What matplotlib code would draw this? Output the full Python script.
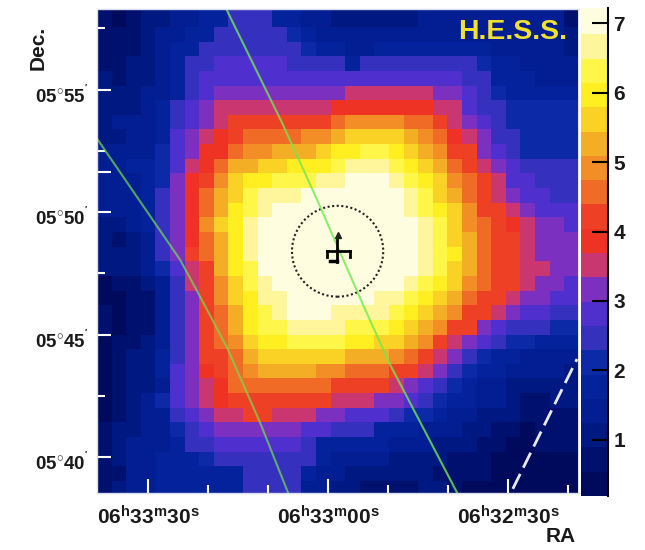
import numpy as np
import matplotlib
matplotlib.use('Agg')
import matplotlib.pyplot as plt
from matplotlib.colors import ListedColormap, BoundaryNorm
from matplotlib.patches import Ellipse
from matplotlib.transforms import ScaledTranslation

plt.rcParams['font.family'] = ['Liberation Sans', 'DejaVu Sans']
plt.rcParams['font.weight'] = 'bold'
plt.rcParams['mathtext.fontset'] = 'custom'
plt.rcParams['mathtext.rm'] = 'Liberation Sans:bold'
plt.rcParams['mathtext.bf'] = 'Liberation Sans:bold'
plt.rcParams['mathtext.default'] = 'rm'

# === 1. Data ===
# significance per bin, top row first, left (high RA) to right
excess = [
    [0.7,0.4,0.7,1.1,1.1,1.4,1.4,1.8,1.8,2.5,2.5,2.5,1.8,1.8,1.4,1.4,1.1,1.1,1.1,1.1,1.1,1.1,1.4,1.4,1.4,1.4,1.4,1.4,1.4,1.4,1.4,1.4,0.7],
    [0.7,0.4,0.7,1.1,1.1,1.4,1.4,1.8,1.8,2.5,2.5,2.5,1.8,1.8,1.4,1.4,1.1,1.1,1.1,1.1,1.1,1.1,1.4,1.4,1.4,1.4,1.4,1.4,1.4,1.4,1.4,1.4,0.7],
    [0.7,0.7,0.7,1.1,1.4,1.4,1.8,1.8,2.5,2.5,2.5,2.5,2.5,2.1,1.8,1.4,1.4,1.4,1.4,1.4,1.4,1.4,1.4,1.4,1.4,1.4,1.4,1.4,1.4,1.4,1.4,1.4,1.1],
    [0.7,0.7,0.7,1.1,1.4,1.8,1.8,2.5,2.5,2.5,2.5,2.5,2.5,2.5,2.1,1.8,1.8,1.4,1.4,1.8,1.8,1.8,1.8,1.8,1.8,1.8,1.8,1.4,1.4,1.4,1.4,1.4,1.1],
    [0.7,0.7,1.1,1.1,1.4,1.8,2.5,2.5,2.8,2.8,2.8,2.8,2.8,2.5,2.5,2.5,2.5,1.8,2.5,2.5,2.5,2.5,2.5,2.5,2.5,2.5,2.1,1.8,1.8,1.4,1.4,1.4,1.4],
    [1.1,0.7,1.1,1.1,1.4,1.8,2.5,2.8,2.8,2.8,2.8,2.8,2.8,2.8,2.8,2.8,2.8,2.8,2.8,2.8,2.8,2.8,2.8,2.8,2.8,2.5,2.5,1.8,1.8,1.8,1.4,1.4,1.4],
    [1.1,1.1,1.1,1.4,1.4,1.8,2.5,2.8,3.2,3.2,3.2,3.2,3.2,3.2,3.2,3.2,3.2,3.5,3.5,3.5,3.5,3.5,3.5,3.2,3.2,2.8,2.5,2.1,1.8,1.8,1.8,1.8,1.8],
    [1.1,1.1,1.1,1.4,1.8,2.5,2.8,3.2,3.5,3.5,3.5,3.5,3.5,3.5,3.5,3.5,3.9,3.9,3.9,3.9,3.9,3.9,3.9,3.5,3.5,2.8,2.5,2.5,2.1,2.1,2.1,2.1,2.1],
    [1.1,1.4,1.4,1.4,1.8,2.5,2.8,3.2,3.5,4.2,4.2,4.2,4.2,4.2,4.2,4.2,4.6,4.9,4.9,4.9,4.9,4.6,4.6,4.2,3.5,3.2,2.8,2.5,2.1,2.1,2.1,2.1,2.1],
    [1.1,1.1,1.4,1.4,1.8,2.8,3.2,3.5,3.9,4.2,4.6,4.6,4.6,4.6,4.9,4.9,5.3,5.6,5.6,5.6,5.6,5.3,4.9,4.6,3.9,3.5,3.2,2.5,2.5,2.1,2.1,2.1,2.1],
    [1.4,1.4,1.4,1.4,2.1,2.8,3.2,3.9,3.9,4.6,4.9,4.9,5.3,5.3,5.3,5.6,6.0,6.0,6.3,6.3,6.0,5.6,5.3,4.9,4.2,4.2,3.2,2.8,2.5,2.1,2.1,2.1,2.1],
    [1.4,1.4,1.8,1.8,2.1,2.8,3.5,3.9,4.6,5.3,5.3,5.6,5.6,6.0,6.0,6.0,6.3,6.7,6.7,6.7,6.3,6.0,5.6,5.3,4.6,4.2,3.5,3.2,2.8,2.5,2.5,2.5,2.5],
    [1.4,1.4,1.4,1.8,2.1,3.2,3.9,4.2,4.9,5.6,6.0,6.0,6.3,6.3,6.3,6.7,6.7,7.0,7.0,7.0,6.7,6.3,6.0,5.6,4.9,4.6,4.2,3.5,2.8,2.8,2.5,2.5,2.5],
    [1.4,1.4,1.4,1.8,2.5,3.2,3.9,4.6,5.3,5.6,6.3,6.7,6.7,6.7,7.0,7.0,7.0,7.0,7.0,7.0,7.0,6.7,6.3,5.6,5.3,4.6,4.2,3.5,3.2,2.8,2.8,2.5,2.5],
    [1.4,1.4,1.4,1.8,2.5,3.2,3.9,4.6,5.3,6.0,6.3,6.7,7.0,7.0,7.0,7.0,7.0,7.0,7.0,7.0,7.0,6.7,6.3,6.0,5.6,4.9,4.2,4.2,3.5,3.2,2.8,2.8,2.8],
    [1.1,1.1,1.4,1.8,2.5,3.2,3.9,4.9,5.6,6.0,6.7,7.0,7.0,7.0,7.0,7.0,7.0,7.0,7.0,7.0,7.0,7.0,6.7,6.3,5.6,4.9,4.6,4.2,3.9,3.5,3.2,3.2,2.8],
    [1.1,0.7,1.1,1.4,2.5,3.2,3.9,4.6,5.3,6.0,6.7,7.0,7.0,7.0,7.0,7.0,7.0,7.0,7.0,7.0,7.0,7.0,6.7,6.3,5.6,5.3,4.6,4.2,4.2,3.5,3.2,3.2,3.2],
    [1.1,1.1,1.1,1.4,2.5,3.2,4.2,4.6,5.3,6.0,6.7,7.0,7.0,7.0,7.0,7.0,7.0,7.0,7.0,7.0,7.0,7.0,6.7,6.3,6.0,5.3,4.6,4.2,4.2,3.5,3.2,3.2,3.2],
    [1.1,1.1,1.1,1.4,2.1,2.8,3.5,4.2,5.3,6.0,6.3,7.0,7.0,7.0,7.0,7.0,7.0,7.0,7.0,7.0,7.0,7.0,6.7,6.3,5.6,5.3,4.6,4.2,4.2,3.5,3.5,3.2,3.2],
    [0.4,0.7,0.7,1.1,1.4,2.5,3.5,4.2,4.9,5.6,6.3,6.7,7.0,7.0,7.0,7.0,7.0,7.0,7.0,7.0,7.0,6.7,6.3,6.0,5.6,4.9,4.6,4.2,4.2,3.5,3.2,3.2,2.8],
    [0.4,0.4,0.7,0.7,1.4,2.5,3.2,4.2,4.9,5.6,6.0,6.7,6.7,7.0,7.0,7.0,7.0,7.0,7.0,6.7,6.7,6.3,6.0,5.6,5.3,4.6,4.2,4.2,3.5,3.2,3.2,2.8,2.8],
    [0.7,0.4,0.7,0.7,1.4,2.5,3.2,4.2,4.6,5.3,6.0,6.3,6.7,7.0,7.0,7.0,6.7,6.7,6.7,6.7,6.3,6.0,5.6,5.3,4.9,4.2,4.2,3.5,3.2,2.8,2.8,2.5,2.5],
    [0.7,0.4,0.7,0.7,1.4,2.5,3.2,4.2,4.6,5.3,6.0,6.3,6.3,6.7,6.7,6.7,6.7,6.3,6.3,6.3,6.0,5.6,5.3,4.9,4.2,4.2,3.2,2.8,2.5,2.5,2.5,2.1,2.1],
    [0.4,0.7,0.7,1.1,1.4,2.5,3.2,4.2,4.6,4.9,5.6,6.0,6.0,6.3,6.3,6.3,6.3,6.0,6.0,5.6,5.6,5.3,4.9,4.2,3.5,3.2,2.8,2.5,2.1,2.1,1.8,1.8,1.8],
    [0.4,0.7,1.1,1.1,1.8,2.5,3.2,4.2,4.2,4.6,5.3,5.6,5.6,5.6,5.6,5.6,5.6,5.3,5.3,5.3,4.9,4.6,4.2,3.5,3.2,2.5,2.1,1.8,1.8,1.4,1.4,1.4,1.4],
    [0.4,0.7,1.1,1.1,1.8,2.8,3.2,3.9,4.2,4.6,4.9,5.3,5.3,5.3,5.3,4.9,4.9,4.6,4.6,4.6,4.2,4.2,3.5,3.2,2.5,2.1,1.8,1.8,1.4,1.4,1.4,1.4,1.1],
    [0.4,0.7,1.1,1.1,1.4,2.8,3.2,3.5,3.9,4.6,4.6,4.6,4.6,4.6,4.6,4.6,4.2,4.2,4.2,4.2,3.5,3.2,2.8,2.5,2.1,1.8,1.4,1.4,1.1,1.1,1.1,1.1,1.1],
    [0.4,0.7,1.1,1.4,2.1,2.8,3.2,3.5,3.9,4.2,4.2,4.2,4.2,4.2,4.2,4.2,3.5,3.5,3.5,3.2,3.2,2.8,2.5,2.1,1.8,1.8,1.4,1.4,1.1,0.7,0.7,1.1,1.1],
    [0.4,0.7,1.1,1.4,1.4,2.5,2.8,3.2,3.5,3.5,4.2,4.2,3.5,3.5,3.5,3.2,3.2,2.8,2.8,2.8,2.5,2.1,2.1,1.8,1.4,1.4,1.1,1.1,1.1,0.7,0.7,0.7,0.7],
    [0.7,1.1,1.1,1.4,1.4,2.1,2.5,2.8,3.2,3.2,3.2,3.2,3.2,3.2,2.8,2.8,2.5,2.5,2.5,1.8,1.8,1.8,1.4,1.4,1.4,1.1,1.1,0.7,0.7,0.4,0.7,0.7,0.7],
    [0.7,1.1,1.4,1.4,1.4,1.8,2.5,2.5,2.8,2.8,2.8,2.8,2.8,2.8,2.5,1.8,1.8,1.8,1.8,1.8,1.4,1.4,1.4,1.1,1.1,1.1,0.7,0.7,0.4,0.4,0.7,0.7,0.7],
    [0.7,1.1,1.4,1.4,1.8,1.8,1.8,2.1,2.5,2.5,2.5,2.5,2.5,2.5,2.5,1.8,1.4,1.4,1.4,1.4,1.1,1.1,1.1,1.1,0.7,0.7,0.7,0.4,0.4,0.4,0.4,0.4,0.4],
    [0.7,0.7,1.4,1.4,1.8,1.8,1.8,1.8,1.8,1.8,2.5,2.5,2.5,2.5,1.8,1.4,1.4,1.1,1.1,1.1,1.1,1.1,1.1,0.7,0.7,0.7,0.7,0.4,0.4,0.4,0.4,0.4,0.4],
    [0.7,1.1,1.4,1.4,1.8,1.8,1.8,1.8,1.8,1.8,2.5,2.5,2.5,2.5,1.4,1.4,1.1,1.1,0.7,0.7,0.7,0.7,1.1,1.1,0.7,0.4,0.4,0.4,0.4,0.4,0.4,0.4,0.4],
]

band_colors = [
    '#000a5c', '#00106e', '#001882', '#021e92', '#04229c', '#0c2aa8',
    '#3530bd', '#4f30cf', '#7b30c0', '#c93670', '#ee3325', '#ee4025',
    '#f06b25', '#f38d25', '#f4ae25', '#f9d225', '#ffee20', '#fff64a',
    '#fff59a', '#fffde0',
]
band_edges = [0.19, 0.54, 0.89, 1.24, 1.59, 1.94, 2.29, 2.64, 2.99, 3.34, 3.69,
              4.04, 4.39, 4.74, 5.09, 5.44, 5.79, 6.14, 6.49, 6.84, 7.22]
cbar_ticks = [1, 2, 3, 4, 5, 6, 7]

# seconds of RA from 06h33m00s, and arcmin of Dec above 5 deg
line1_ra = [17.0, 7.67, 1.83, -5.83, -10.33, -21.5]
line1_dec = [58.31, 53.65, 50.51, 46.22, 43.78, 38.55]
line2_ra = [38.5, 24.67, 21.67, 16.83, 11.33, 6.67]
line2_dec = [53.0, 48.06, 46.71, 44.47, 41.41, 38.55]
dashed_ra = [-30.8, -41.5]
dashed_dec = [38.7, 44.0]

x_major = [30, 0, -30]
x_major_labels = ['06$^{h}$33$^{m}$30$^{s}$', '06$^{h}$33$^{m}$00$^{s}$', '06$^{h}$32$^{m}$30$^{s}$']
x_minor = [20, 10, -10, -20, -40]
y_major = [55, 51.65, 50, 45, 40]
y_major_labels = ["05$^{\\circ}$55$^{'}$", "", "05$^{\\circ}$50$^{'}$", "05$^{\\circ}$45$^{'}$", "05$^{\\circ}$40$^{'}$"]
y_minor = [57.5, 52.5, 47.5, 42.5]

# === 2. Figure and axes ===
W, H = 645, 550
fig = plt.figure(figsize=(W / 100, H / 100), dpi=100)
ax = fig.add_axes([97 / W, 1 - 493 / H, 482 / W, 484.5 / H])
cax = fig.add_axes([581 / W, 1 - 496 / H, 27 / W, 488 / H])

cmap = ListedColormap(band_colors)
norm = BoundaryNorm(band_edges, cmap.N)

x_edges = 38.5 - 2.4333 * np.arange(34)
y_edges = 58.753 - 0.598 * np.arange(35)
mesh = ax.pcolormesh(x_edges, y_edges, np.array(excess), cmap=cmap, norm=norm)
ax.set_xlim(38.5, -41.83)
ax.set_ylim(38.53, 58.31)

# === 3. Overlays ===
ax.plot(line1_ra, line1_dec, color='#70e850', lw=1.5, alpha=0.8)
ax.plot(line2_ra, line2_dec, color='#70e050', lw=1.5, alpha=0.7)
ax.plot(dashed_ra, dashed_dec, color='#e8e8f0', lw=2, dashes=(6, 2.5))
ax.add_patch(Ellipse((-1.6, 48.4), 15.2, 3.71, fill=False, ec='#222222', lw=1.5, ls=(0, (1, 1.2))))

# source marker: triangle + error cross
ax.plot([-1.6], [49.05], marker='^', ms=5, color='#222222', ls='none')
ax.plot([0.2, -3.6], [48.4, 48.4], color='k', lw=2)
ax.plot([-1.5, -1.5], [48.85, 47.95], color='k', lw=2)
ax.plot([0.2, 0.2], [48.4, 48.15], color='k', lw=2)
ax.plot([-3.6, -3.6], [48.4, 48.15], color='k', lw=2)
ax.plot([-0.3, -1.5], [48.0, 48.0], color='k', lw=2.5)

ax.text(0.975, 0.952, 'H.E.S.S.', transform=ax.transAxes, ha='right', va='center',
        color='#f0e030', fontsize=20.5, fontweight='bold')

# === 4. Axes styling ===
for side, spine in ax.spines.items():
    spine.set_color('#d8dcf0')
    spine.set_linewidth(1.0)
ax.spines['right'].set_color('white')
ax.spines['right'].set_linewidth(2)

ax.set_xticks(x_major)
ax.set_xticklabels(x_major_labels)
ax.set_xticks(x_minor, minor=True)
ax.set_yticks(y_major)
ax.set_yticklabels(y_major_labels)
ax.set_yticks(y_minor, minor=True)
ax.tick_params(axis='x', which='major', direction='in', color='white', width=1.5, length=10,
               labelsize=15, labelcolor='#1a1a1a', pad=9)
ax.tick_params(axis='x', which='minor', direction='in', color='white', width=1.5, length=5.8)
ax.tick_params(axis='y', which='major', direction='in', color='white', width=1.5, length=10,
               labelsize=13.5, labelcolor='#1a1a1a', pad=6)
ax.tick_params(axis='y', which='minor', direction='in', color='white', width=1.5, length=5.8)
shift_up = ScaledTranslation(0, 3.6 / 72, fig.dpi_scale_trans)
for lab in ax.get_yticklabels():
    lab.set_va('top')
    lab.set_transform(lab.get_transform() + shift_up)

fig.text(576 / W, 1 - 537 / H, 'RA', ha='right', va='center', fontsize=15, color='#1a1a1a')
fig.text(38 / W, 1 - 47.5 / H, 'Dec.', ha='center', va='center', rotation=90, fontsize=15,
         color='#1a1a1a')

cb = fig.colorbar(mesh, cax=cax, spacing='proportional', drawedges=False)
cb.set_ticks(cbar_ticks)
cb.ax.minorticks_off()
cb.ax.tick_params(direction='in', length=11.5, width=1.5, color='k', labelsize=15,
                  labelcolor='#1a1a1a', pad=4)
cb.outline.set_visible(False)
cax.spines['right'].set_visible(True)
cax.spines['right'].set_color('k')
cax.spines['right'].set_linewidth(1.5)

fig.savefig('out.png', dpi=100)
